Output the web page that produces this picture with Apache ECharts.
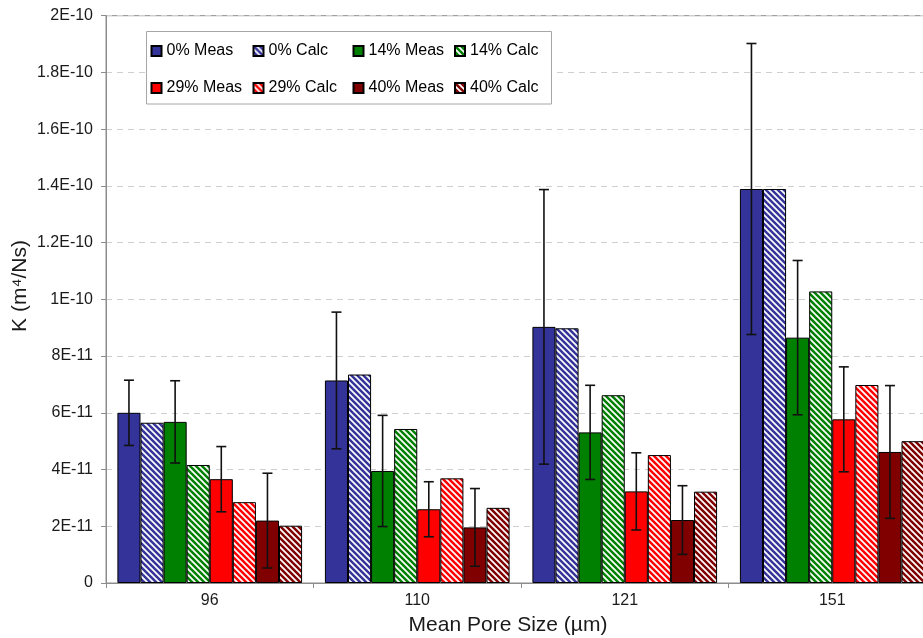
<!DOCTYPE html>
<html>
<head>
<meta charset="utf-8">
<style>
  html, body { margin: 0; padding: 0; background: #ffffff; }
  #chart { width: 923px; height: 638px; }
</style>
<script src="https://cdn.jsdelivr.net/npm/echarts@6/dist/echarts.min.js"></script>
</head>
<body>
<div id="chart"></div>
<script>
// Permeability K versus mean pore size, values in units of 1E-11 m^4/Ns
const categories = ['96', '110', '121', '151'];

const meas0  = [6.00, 7.14, 9.03, 13.89];
const calc0  = [5.65, 7.35, 8.98, 13.89];
const meas14 = [5.68, 3.95, 5.31, 8.65];
const calc14 = [4.16, 5.43, 6.62, 10.28];
const meas29 = [3.66, 2.60, 3.23, 5.77];
const calc29 = [2.85, 3.69, 4.51, 6.98];
const meas40 = [2.20, 1.96, 2.22, 4.62];
const calc40 = [2.02, 2.65, 3.22, 5.00];

// symmetric error (±) on the measured values
const err0  = [1.15, 2.41, 4.84, 5.13];
const err14 = [1.45, 1.96, 1.66, 2.72];
const err29 = [1.15, 0.97, 1.36, 1.85];
const err40 = [1.67, 1.37, 1.21, 2.34];

const yTicks = { min: 0, max: 20, interval: 2 };

const BLUE = '#333399', GREEN = '#008000', RED = '#ff0000', MAROON = '#800000';
const FONT = '"Liberation Sans", Arial, sans-serif';
const CAT_GAP = 0.11;   // fraction of each category left empty
const N_BARS = 8;

// diagonal hatch fill ("\" direction) in the given colour on white
function hatch(color) {
  const s = 6;
  const c = document.createElement('canvas');
  c.width = s; c.height = s;
  const ctx = c.getContext('2d');
  ctx.fillStyle = '#ffffff';
  ctx.fillRect(0, 0, s, s);
  ctx.strokeStyle = color;
  ctx.lineWidth = 2.5;
  for (const off of [-s, 0, s]) {
    ctx.beginPath();
    ctx.moveTo(-1, off - 1);
    ctx.lineTo(s + 1, s + off + 1);
    ctx.stroke();
  }
  return { image: c, repeat: 'repeat' };
}

function barSeries(name, data, fill) {
  return {
    name: name,
    type: 'bar',
    data: data,
    barGap: '0%',
    barCategoryGap: (CAT_GAP * 100) + '%',
    itemStyle: { color: fill, borderColor: '#000000', borderWidth: 1 },
    emphasis: { disabled: true },
    animation: false
  };
}

// error bars drawn over the measured bar at position `slot` in the group
function errorSeries(values, errs, slot) {
  return {
    type: 'custom',
    z: 5,
    animation: false,
    silent: true,
    data: values.map((v, i) => [i, v, v + errs[i], v - errs[i]]),
    renderItem: function (params, api) {
      const ci = api.value(0);
      const hi = api.coord([ci, api.value(2)]);
      const lo = api.coord([ci, api.value(3)]);
      const bandW = api.size([1, 0])[0];
      const groupW = bandW * (1 - CAT_GAP);
      const barW = groupW / N_BARS;
      const x = hi[0] - groupW / 2 + (slot + 0.5) * barW;
      const cap = 5;
      const st = { stroke: '#111111', lineWidth: 1.6 };
      return {
        type: 'group',
        children: [
          { type: 'line', shape: { x1: x, y1: hi[1], x2: x, y2: lo[1] }, style: st },
          { type: 'line', shape: { x1: x - cap, y1: hi[1], x2: x + cap, y2: hi[1] }, style: st },
          { type: 'line', shape: { x1: x - cap, y1: lo[1], x2: x + cap, y2: lo[1] }, style: st }
        ]
      };
    }
  };
}

function sciLabel(v) {
  if (Math.abs(v) < 1e-9) return '0';
  const real = v * 1e-11;
  let exp = Math.floor(Math.log10(real) + 1e-9);
  let mant = Math.round(real / Math.pow(10, exp) * 10) / 10;
  if (mant >= 10) { mant /= 10; exp += 1; }
  return String(mant) + 'E' + exp;
}

function legendCol(left, names) {
  return {
    orient: 'vertical',
    left: left,
    top: 43,
    padding: 0,
    itemGap: 21,
    itemWidth: 10,
    itemHeight: 10,
    icon: 'rect',
    selectedMode: false,
    z: 6,
    textStyle: { fontFamily: FONT, fontSize: 16, color: '#000000', padding: [0, 0, 0, 0] },
    data: names
  };
}

const chart = echarts.init(document.getElementById('chart'), null, { renderer: 'canvas' });

chart.setOption({
  backgroundColor: '#ffffff',
  animation: false,
  grid: {
    left: 106, width: 830, top: 15.7, height: 567.3,
    outerBoundsMode: 'none',
    containLabel: false,
    show: true, borderColor: '#8c8c8c', borderWidth: 1, backgroundColor: 'transparent'
  },
  legend: [
    legendCol(150.5, ['0% Meas', '29% Meas']),
    legendCol(252.5, ['0% Calc', '29% Calc']),
    legendCol(352.5, ['14% Meas', '40% Meas']),
    legendCol(454, ['14% Calc', '40% Calc'])
  ],
  xAxis: {
    type: 'category',
    data: categories,
    boundaryGap: true,
    axisLine: { lineStyle: { color: '#8c8c8c', width: 1 } },
    axisTick: { show: true, length: 5, lineStyle: { color: '#8c8c8c' } },
    axisLabel: { fontFamily: FONT, fontSize: 16, color: '#1a1a1a', margin: 10 },
    splitLine: { show: false }
  },
  yAxis: {
    type: 'value',
    min: yTicks.min, max: yTicks.max, interval: yTicks.interval,
    axisLine: { show: true, lineStyle: { color: '#8c8c8c', width: 1 } },
    axisTick: { show: true, length: 5, lineStyle: { color: '#8c8c8c' } },
    axisLabel: { fontFamily: FONT, fontSize: 16, color: '#1a1a1a', margin: 13, formatter: sciLabel },
    splitLine: { show: true, lineStyle: { color: '#cfcfcf', type: [6, 5], width: 1 } }
  },
  graphic: [
    {
      type: 'rect', z: 3, silent: true,
      shape: { x: 146.5, y: 31.5, width: 405, height: 72.5 },
      style: { fill: '#ffffff', stroke: '#a6a6a6', lineWidth: 1 }
    },
    {
      type: 'text', z: 6, silent: true,
      x: 508, y: 625,
      style: { text: 'Mean Pore Size (µm)', font: '21px ' + FONT, fill: '#1a1a1a', align: 'center', verticalAlign: 'middle' }
    },
    {
      type: 'text', z: 6, silent: true,
      x: 20, y: 286, rotation: Math.PI / 2,
      style: { text: 'K (m⁴/Ns)', font: '21px ' + FONT, fill: '#1a1a1a', align: 'center', verticalAlign: 'middle' }
    }
  ],
  series: [
    barSeries('0% Meas', meas0, BLUE),
    barSeries('0% Calc', calc0, hatch(BLUE)),
    barSeries('14% Meas', meas14, GREEN),
    barSeries('14% Calc', calc14, hatch(GREEN)),
    barSeries('29% Meas', meas29, RED),
    barSeries('29% Calc', calc29, hatch(RED)),
    barSeries('40% Meas', meas40, MAROON),
    barSeries('40% Calc', calc40, hatch(MAROON)),
    errorSeries(meas0, err0, 0),
    errorSeries(meas14, err14, 2),
    errorSeries(meas29, err29, 4),
    errorSeries(meas40, err40, 6)
  ]
});
</script>
</body>
</html>
